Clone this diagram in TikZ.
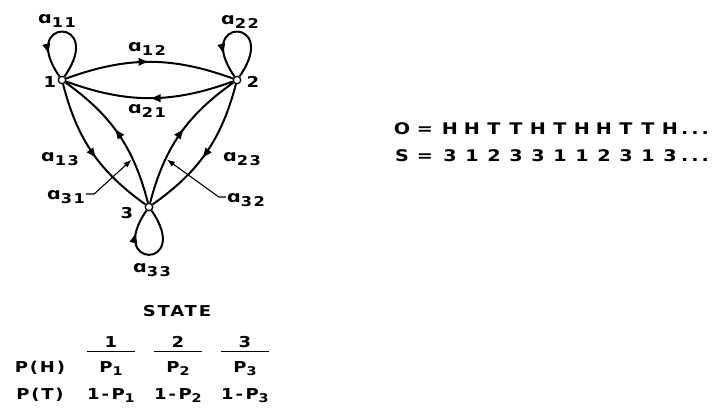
\documentclass[tikz,border=0pt]{standalone}
\usepackage{fontspec}
\setmainfont{DejaVu Sans}[FakeStretch=1.2]
\usetikzlibrary{arrows.meta, decorations.markings}

\newcommand{\aij}[1]{{\addfontfeature{LetterSpace=12}ɑ\raisebox{-3.5pt}{\fontsize{13.5}{14}\selectfont#1}}}
\newcommand{\psub}[1]{P\raisebox{-3.5pt}{\fontsize{12}{12}\selectfont#1}}

\begin{document}
\begin{tikzpicture}[x=1pt, y=1pt,
    state/.style={circle, draw, line width=1.3pt, fill=white, inner sep=0pt, minimum size=7.5pt},
    trans/.style={line width=2pt, postaction=decorate,
      decoration={markings, mark=at position #1 with {\arrow{Latex[length=11pt,width=8.5pt]}}}},
    trans/.default=0.5,
    pointer/.style={line width=1.1pt, -{Latex[length=8pt,width=6pt]}, shorten >=1.5pt},
    lbl/.style={font=\fontsize{16}{18}\selectfont\bfseries, inner sep=1pt},
    num/.style={font=\fontsize{15}{16}\selectfont\bfseries, inner sep=1pt},
    seq/.style={font=\fontsize{16}{18}\selectfont\bfseries, anchor=base, inner sep=0pt},
    tab/.style={font=\fontsize{15}{16}\selectfont\bfseries\addfontfeature{LetterSpace=12}, anchor=base, inner sep=1pt},
    colhead/.style={tab, minimum width=48pt, inner ysep=4pt}]
  \useasboundingbox (0,0) rectangle (712,-408);

  % states
  \node[state] (n1) at (62,-80) {};
  \node[state] (n2) at (237,-80) {};
  \node[state] (n3) at (149,-207) {};
  \node[num] (k1) at (50,-82) {1};
  \node[num] (k2) at (253,-82) {2};
  \node[num] (k3) at (127,-213) {3};

  % transitions
  \draw[trans] (n1) to[bend left=20] (n2);
  \draw[trans] (n2) to[bend left=20] (n1);
  \draw[trans=0.55] (n1) to[bend right=20] (n3);
  \draw[trans=0.55] (n3) to[bend right=20] coordinate[pos=0.3] (t31) (n1);
  \draw[trans=0.55] (n2) to[bend left=20] (n3);
  \draw[trans=0.55] (n3) to[bend left=20] coordinate[pos=0.3] (t32) (n2);
  \draw[trans=0.78] (n1) to[out=55, in=125, min distance=73pt] (n1);
  \draw[trans=0.78] (n2) to[out=55, in=125, min distance=73pt] (n2);
  \draw[trans=0.78] (n3) to[out=-55, in=-125, min distance=72pt] (n3);

  % transition labels
  \node[lbl] (l11) at (57,-21) {\aij{11}};
  \node[lbl] (l22) at (240,-22) {\aij{22}};
  \node[lbl] (l12) at (147,-49) {\aij{12}};
  \node[lbl] (l21) at (147,-111) {\aij{21}};
  \node[lbl] (l13) at (60,-159) {\aij{13}};
  \node[lbl] (l23) at (242,-159) {\aij{23}};
  \node[lbl] (l31) at (66,-197) {\aij{31}};
  \node[lbl] (l32) at (246,-200) {\aij{32}};
  \node[lbl] (l33) at (152,-270) {\aij{33}};
  \draw[pointer] ([yshift=3pt]l31.east) -- ++(8,0) -- (t31);
  \draw[pointer] ([yshift=3pt]l32.west) -- ++(-7,0) -- (t32);

  % observation and state sequences
  \node[seq] (o0) at (402,-134.5) {O};
  \node[seq] (oeq) at (425,-134.5) {=};
  \foreach \c [count=\k] in {H,H,T,T,H,T,H,H,T,T,H}
    \node[seq] (o\k) at (428+22*\k,-134.5) {\c};
  \node[seq] (odots) at (695,-134.5) {.\hspace{3pt}.\hspace{3pt}.};
  \node[seq] (s0) at (402,-161.5) {S};
  \node[seq] (seq) at (425,-161.5) {=};
  \foreach \c [count=\k] in {3,1,2,3,3,1,1,2,3,1,3}
    \node[seq] (s\k) at (428+22*\k,-161.5) {\c};
  \node[seq] (sdots) at (695,-161.5) {.\hspace{3pt}.\hspace{3pt}.};

  % output probabilities
  \node[tab] (st) at (177,-316) {STATE};
  \node[colhead] (c1) at (111,-347) {1};
  \node[colhead] (c2) at (178,-347) {2};
  \node[colhead] (c3) at (245,-347) {3};
  \draw[line width=1.3pt] (c1.south west) -- (c1.south east);
  \draw[line width=1.3pt] (c2.south west) -- (c2.south east);
  \draw[line width=1.3pt] (c3.south west) -- (c3.south east);
  \node[tab] (ph) at (40,-372) {P(H)};
  \node[tab] (p1) at (111,-372) {\psub{1}};
  \node[tab] (p2) at (178,-372) {\psub{2}};
  \node[tab] (p3) at (245,-372) {\psub{3}};
  \node[tab] (pt) at (40,-399) {P(T)};
  \node[tab] (q1) at (111,-399) {1-\,\psub{1}};
  \node[tab] (q2) at (178,-399) {1-\,\psub{2}};
  \node[tab] (q3) at (245,-399) {1-\,\psub{3}};
\end{tikzpicture}
\end{document}
